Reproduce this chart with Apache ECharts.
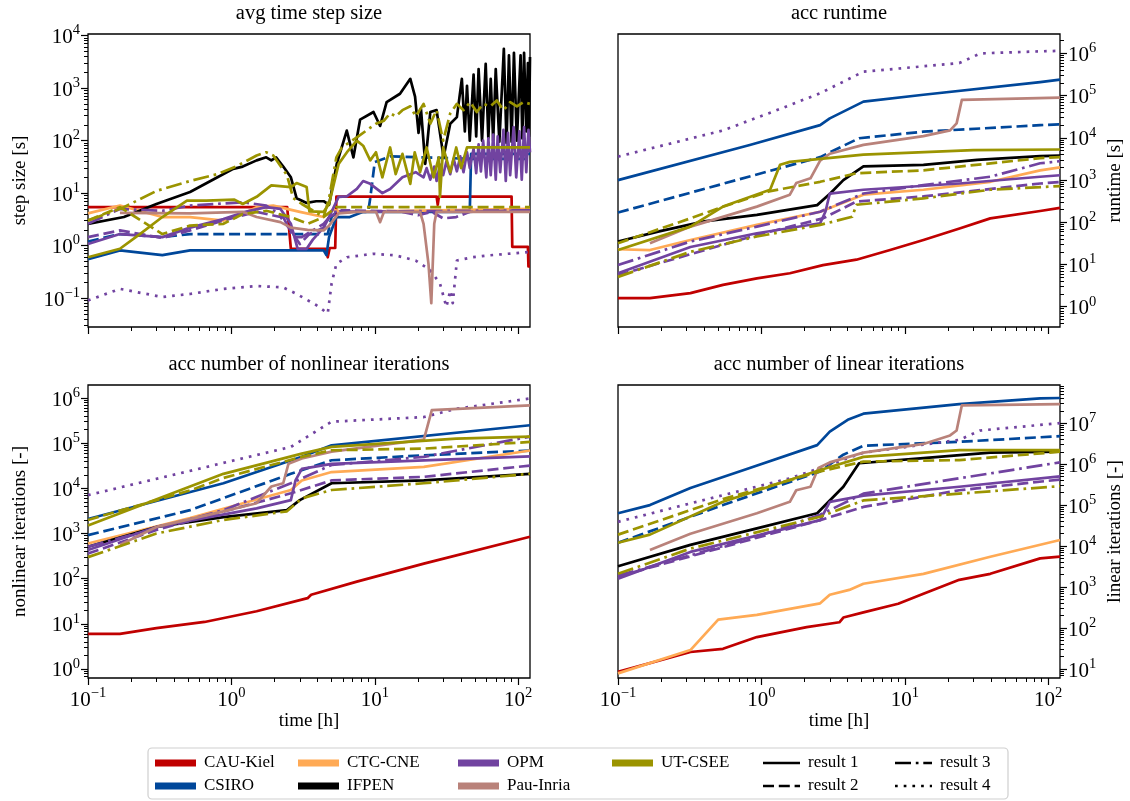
<!DOCTYPE html>
<html>
<head>
<meta charset="utf-8">
<script src="https://cdn.jsdelivr.net/npm/echarts@6/dist/echarts.min.js"></script>
<style>
  html, body { margin: 0; padding: 0; background: #fff; }
  #chart { width: 1130px; height: 801px; }
</style>
</head>
<body>
<div id="chart"></div>
<script>
// ---- teams, results ----
const teams = ['CAU-Kiel', 'CSIRO', 'CTC-CNE', 'IFPEN', 'OPM', 'Pau-Inria', 'UT-CSEE'];
const teamColors = ['#c00000', '#00479a', '#ffaa55', '#000000', '#7143a0', '#b9827a', '#9b9400'];
const resultNames = ['result 1', 'result 2', 'result 3', 'result 4'];

// ---- avg time step size [s] vs time [h] ----
const step_CAU_1 = [[0.1,5.4],[2.45,5.4],[2.6,0.87],[4.55,0.87],[4.7,0.6],[4.85,0.9],[5.3,0.9],[5.4,8.6],[27,8.6],[27.5,6],[28,8.6],[90,8.6],[91,0.95],[117,0.95],[118,0.4],[121,0.4]];
const step_CSIRO_1 = [[0.1,0.55],[0.167,0.81],[0.33,0.66],[0.515,0.81],[4.4,0.81],[4.6,0.66],[4.8,1.45],[5.4,3.5],[6.7,3.5],[8.3,4.4],[46,4.4],[47,56],[121,56]];
const step_CSIRO_2 = [[0.1,1.2],[0.167,1.66],[0.33,1.45],[0.515,1.66],[4.7,1.66],[5.0,3.5],[5.4,4.4],[9.0,4.4],[9.3,8],[10,39],[12.8,50],[48,45],[121,45]];
const step_CTC_1 = [[0.1,4.1],[0.167,5.8],[0.33,3.5],[0.515,3.5],[0.88,3.0],[1.2,4.0],[1.5,5.4],[1.96,5.8],[2.44,5.0],[3.0,4.4],[4.4,3.5],[5.1,4.8],[6,4.4],[121,5.0]];
const step_IFPEN_1 = [[0.1,2.6],[0.178,3.5],[0.3,6.2],[0.515,10.5],[0.8,20],[1.03,29],[1.2,32],[1.5,42],[1.75,48],[1.9,42],[2.05,48],[2.3,32],[2.6,20],[2.85,8],[3.35,6.5],[3.9,7],[4.4,7],[4.8,6],[5.43,36],[6.38,155],[7.1,48],[7.9,250],[9.8,350],[10.9,190],[12.1,540],[15,780],[17.7,1500],[19.1,690],[20.2,140],[21,400],[22.5,36],[24.4,350],[27,380],[30.2,48],[33.6,210],[37.4,280],[40.5,1500],[42.5,150],[44,1100],[46,100],[48.9,1800],[51,120],[53,2300],[56,100],[59.4,2900],[62,110],[64.4,1500],[67,100],[69.8,2300],[74,95],[79.5,5600],[83,90],[86.3,4200],[90,95],[93.5,4700],[98,100],[104,4200],[107,110],[110,4700],[114,150],[117,3000],[119,120],[121,3900]];
const step_OPM_1 = [[0.1,1.07],[0.167,1.66],[0.33,1.45],[0.515,2.2],[0.88,3.2],[1.25,4.4],[1.75,5.4],[2.2,5],[2.6,2.6],[2.9,0.87],[3.35,0.87],[3.7,1.3],[4.4,2.2],[4.8,3.5],[5.6,8.5],[6.4,8.7],[7.5,12],[8.3,17],[9.3,15],[11.3,10],[12.8,12],[15.6,20],[19.3,25],[21.9,20],[23,30],[24.4,18],[26,32],[27,17],[28.5,35],[30,22],[31.6,40],[33.6,23],[35.5,45],[37.4,26],[39.5,50],[41.6,25],[44,60],[46,30],[48.9,70],[51,24],[53,85],[55,26],[57,100],[60,20],[62,110],[64.4,22],[67,130],[69.8,18],[72,120],[75,25],[79,160],[82,17],[85,140],[88,22],[93,180],[97,20],[102,150],[106,18],[110,180],[114,25],[118,160],[121,60]];
const step_OPM_2 = [[0.1,1.45],[0.167,1.95],[0.33,1.4],[0.515,1.95],[0.88,3],[1.5,4.4],[2.2,3.5],[2.6,1.95],[3.0,1.07],[3.5,1.66],[4.4,2.2],[4.8,3.5],[5.9,4.7],[15,4.5],[20,3.8],[25,4.4],[30,3.3],[37,3.5],[46,4.4],[121,4.7]];
const step_OPM_3 = [[0.1,2.6],[0.167,5],[0.33,4.6],[0.515,5.8],[1.2,6.7],[1.75,5.8],[2.3,3.5],[2.7,1.45],[3.1,1.45],[4.4,2.6],[5.2,4.4],[121,4.7]];
const step_OPM_4 = [[0.1,0.09],[0.167,0.15],[0.33,0.105],[0.515,0.12],[0.88,0.15],[1.5,0.17],[2.3,0.16],[2.85,0.12],[3.9,0.074],[4.7,0.051],[5.0,0.19],[5.4,0.45],[6.4,0.6],[9.8,0.7],[14,0.65],[19.3,0.52],[24.4,0.34],[28.5,0.19],[31.6,0.068],[33.6,0.14],[35,0.08],[37.4,0.52],[48,0.6],[62,0.65],[121,0.76]];
const step_Pau_1 = [[0.167,4.2],[0.515,4.1],[1.2,4.4],[1.5,3.5],[2.2,2.8],[2.6,2.2],[3.4,2.0],[4.4,1.95],[4.8,2.4],[5.6,4.1],[7.5,4.4],[10.2,4.4],[10.9,2.8],[11.6,4.4],[20.7,4.4],[21.9,2.6],[23.7,0.45],[24.8,0.08],[26,2.6],[27,4.4],[121,4.4]];
const step_UT_1 = [[0.1,0.6],[0.167,0.87],[0.23,1.66],[0.33,3.5],[0.49,7.2],[0.67,7.2],[1.05,7.5],[1.2,6.2],[1.5,8.5],[1.9,14],[2.6,13],[2.85,15.5],[3.35,13],[3.5,4.5],[4.4,4.4],[4.8,6.2],[5.6,36],[6.4,60],[7.5,100],[8.3,80],[9.3,42],[10.2,60],[11.3,20],[12.8,74],[14,23],[15.6,56],[17.7,15],[19,60],[20.7,25],[23,74],[25.7,20],[28,48],[28.5,8.5],[30,74],[33.6,25],[37,74],[40,30],[44,74],[121,74]];
const step_UT_2 = [[0.1,3.0],[0.167,5.4],[0.33,1.66],[0.515,2.4],[0.88,2.6],[1.2,4],[1.75,4.6],[2.6,3.5],[3.4,2.6],[4.4,3.5],[5.4,5.4],[121,5.4]];
const step_UT_3 = [[0.1,3.0],[0.178,5.4],[0.3,11],[0.515,17],[0.8,23],[1.1,33],[1.5,52],[1.75,60],[1.96,52],[2.44,22],[2.7,8],[3.1,6.2],[4.4,3.5],[4.8,8],[5.4,48],[5.9,74],[7.5,115],[10.2,210],[11.6,240],[12.8,330],[14,290],[15.6,380],[17.7,450],[19.3,290],[21.9,500],[24.4,210],[27,380],[30,100],[33.6,330],[37.4,500],[41.6,380],[46.3,540],[51.5,350],[57,500],[64,450],[71,580],[79,380],[88,540],[98,450],[109,540],[121,500]];

// ---- accumulated runtime [s] ----
const run_CAU_1 = [[0.1,1.6],[0.167,1.6],[0.32,2.1],[0.54,3.3],[0.93,4.7],[1.58,6.2],[2.69,9.7],[4.6,13],[7.9,22],[13.5,38],[24.4,72],[39.5,124],[88,185],[121,220]];
const run_CSIRO_1 = [[0.1,1000],[0.83,6800],[2.57,20000],[3.0,29000],[5.15,72000],[13.5,105000],[88,210000],[121,240000]];
const run_CSIRO_2 = [[0.1,170],[2.57,3500],[4.8,9800],[13.5,14000],[88,20000],[121,21000]];
const run_CTC_1 = [[0.1,23],[0.167,22],[0.32,38],[0.93,87],[2.57,178],[5.15,450],[13.5,590],[39.5,910],[88,1700],[121,2000]];
const run_IFPEN_1 = [[0.1,35],[0.19,60],[0.4,105],[0.93,150],[2.45,255],[3.02,480],[3.73,1000],[5.15,2100],[13.5,2300],[32,3000],[88,3700],[121,3800]];
const run_OPM_1 = [[0.1,6.2],[0.32,26],[0.93,55],[2.57,95],[2.8,180],[3.0,480],[5.15,590],[24,830],[88,1200],[121,1300]];
const run_OPM_2 = [[0.1,5.6],[0.93,50],[2.69,124],[4.6,310],[13.5,410],[88,830],[121,900]];
const run_OPM_3 = [[0.1,9.7],[0.32,35],[0.93,79],[2.57,178],[5.15,480],[13.5,760],[39.5,1200],[88,2500],[121,2800]];
const run_OPM_4 = [[0.1,3600],[0.54,15000],[1.21,42000],[2.57,114000],[5.15,370000],[24,590000],[33.6,1000000],[88,1120000],[121,1150000]];
const run_Pau_1 = [[0.167,32],[0.32,79],[0.93,235],[1.58,450],[1.75,850],[2.2,1100],[2.57,2900],[3.0,4200],[5.15,6800],[13.5,11000],[20.7,15000],[23,22000],[25,79000],[121,90000]];
const run_UT_1 = [[0.1,22],[0.32,79],[0.54,236],[1.15,590],[1.35,2300],[1.58,2700],[5.15,4000],[30,5100],[121,5300]];
const run_UT_2 = [[0.1,32],[0.32,124],[0.54,234],[1.13,540],[2.57,910],[4.6,1450],[13.5,1700],[88,3300],[121,3500]];
const run_UT_3 = [[0.1,5.1],[0.32,20],[0.93,46],[2.57,87],[4.3,135],[4.6,260],[13.5,370],[39.5,590],[121,720]];

// ---- accumulated nonlinear iterations [-] ----
const nl_CAU_1 = [[0.1,6],[0.167,6],[0.3,8],[0.65,11],[1.5,19],[3.4,37],[3.6,44],[7.5,86],[22,215],[121,850]];
const nl_CSIRO_1 = [[0.1,2100],[0.88,13000],[3.1,50000],[5,90000],[121,250000]];
const nl_CSIRO_2 = [[0.1,920],[0.515,3300],[2.6,21000],[5,42000],[22,54000],[121,69000]];
const nl_CTC_1 = [[0.1,600],[0.515,2200],[2.6,9200],[3.1,15000],[5,23000],[22,30000],[121,69000]];
const nl_IFPEN_1 = [[0.1,510],[0.3,1400],[0.88,2300],[2.44,3300],[3.0,5500],[5,13000],[22,15000],[121,21000]];
const nl_OPM_1 = [[0.1,430],[0.3,1400],[1.5,3600],[2.6,5500],[2.8,15000],[3.1,27000],[5,35000],[121,51000]];
const nl_OPM_2 = [[0.1,360],[0.3,1200],[2.6,7800],[5,15000],[22,18000],[121,32000]];
const nl_OPM_3 = [[0.1,510],[0.88,3300],[2.6,13000],[5,33000],[22,50000],[121,140000]];
const nl_OPM_4 = [[0.1,7100],[2.6,83000],[5,300000],[22,380000],[37,580000],[121,980000]];
const nl_Pau_1 = [[0.167,560],[0.3,1400],[0.88,3100],[1.5,4700],[1.9,11000],[2.3,13000],[2.5,35000],[3.1,46000],[5,65000],[22,120000],[25,540000],[121,690000]];
const nl_UT_1 = [[0.1,1500],[0.515,11000],[0.88,21000],[3.1,59000],[5,83000],[37,126000],[121,140000]];
const nl_UT_2 = [[0.1,2000],[0.515,9000],[0.88,17000],[3.1,50000],[5,70000],[22,76000],[121,107000]];
const nl_UT_3 = [[0.1,300],[0.3,1000],[0.88,2000],[2.44,3100],[3.1,6000],[5,9200],[22,13000],[121,21000]];

// ---- accumulated linear iterations [-] ----
const lin_CAU_1 = [[0.1,8.5],[0.32,26],[0.54,31],[0.93,60],[2.07,105],[3.5,138],[3.73,180],[5.15,240],[9,390],[13.5,690],[24,1500],[39.5,2100],[88,5000],[121,5500]];
const lin_CSIRO_1 = [[0.1,63000],[0.167,100000],[0.32,260000],[0.83,800000],[2.45,2900000],[3.0,6200000],[4.0,12000000],[5.15,17000000],[24,29000000],[88,40000000],[121,41000000]];
const lin_CSIRO_2 = [[0.1,12000],[0.54,100000],[2.57,660000],[3.73,1700000],[5.15,2800000],[24,3500000],[121,4800000]];
const lin_CTC_1 = [[0.1,7.8],[0.32,29],[0.5,160],[0.93,210],[2.57,400],[3.0,650],[4.1,850],[5.15,1200],[13.5,2100],[39.5,5500],[121,14000]];
const lin_IFPEN_1 = [[0.1,3200],[0.32,10700],[0.93,27000],[2.45,63000],[3.73,280000],[4.8,1050000],[13.5,1400000],[39.5,1900000],[121,2000000]];
const lin_OPM_1 = [[0.1,1600],[0.32,7200],[2.57,43000],[3.0,120000],[5.15,170000],[24,280000],[121,500000]];
const lin_OPM_2 = [[0.1,1800],[2.57,43000],[5.15,90000],[24,230000],[121,420000]];
const lin_OPM_3 = [[0.1,1900],[0.93,17000],[2.57,58000],[5.15,190000],[24,450000],[121,1100000]];
const lin_OPM_4 = [[0.1,39000],[0.32,110000],[1.58,450000],[2.57,800000],[5.15,1900000],[24,3900000],[33.6,6600000],[121,10000000]];
const lin_Pau_1 = [[0.167,8000],[0.32,20000],[0.93,63000],[1.58,120000],[1.75,230000],[2.2,280000],[2.5,800000],[3.0,1100000],[5.15,1900000],[13.5,3100000],[20.7,5000000],[23,6600000],[25,27000000],[121,29000000]];
const lin_UT_1 = [[0.1,12000],[0.167,19000],[0.54,120000],[2.57,720000],[5.15,1500000],[24,2200000],[121,2200000]];
const lin_UT_2 = [[0.1,19000],[0.54,140000],[2.57,660000],[5.15,1150000],[24,1250000],[121,2000000]];
const lin_UT_3 = [[0.1,2100],[0.32,8700],[2.57,52000],[5.15,130000],[24,190000],[121,290000]];

// ---- layout and styling ----
const FONT = '"Liberation Serif", "DejaVu Serif", serif';
const LW = 2.7;
const dashes = ['solid', [11, 4.8], [16, 4.8, 2.7, 4.8], [2.7, 6]];
const TIME_MIN = 0.1, TIME_MAX = 121;

const panels = [
  { title: 'avg time step size', yName: 'step size [s]', side: 'left', yMin: -1.55, yMax: 4.03,
    left: 88, top: 34, xLabels: false,
    lines: [[0,0,step_CAU_1],[1,0,step_CSIRO_1],[1,1,step_CSIRO_2],[2,0,step_CTC_1],[3,0,step_IFPEN_1],
            [4,0,step_OPM_1],[4,1,step_OPM_2],[4,2,step_OPM_3],[4,3,step_OPM_4],[5,0,step_Pau_1],
            [6,0,step_UT_1],[6,1,step_UT_2],[6,2,step_UT_3]] },
  { title: 'acc runtime', yName: 'runtime [s]', side: 'right', yMin: -0.48, yMax: 6.46,
    left: 618, top: 34, xLabels: false,
    lines: [[0,0,run_CAU_1],[1,0,run_CSIRO_1],[1,1,run_CSIRO_2],[2,0,run_CTC_1],[3,0,run_IFPEN_1],
            [4,0,run_OPM_1],[4,1,run_OPM_2],[4,2,run_OPM_3],[4,3,run_OPM_4],[5,0,run_Pau_1],
            [6,0,run_UT_1],[6,1,run_UT_2],[6,2,run_UT_3]] },
  { title: 'acc number of nonlinear iterations', yName: 'nonlinear iterations [-]', side: 'left', yMin: -0.2, yMax: 6.29,
    left: 88, top: 385, xLabels: true,
    lines: [[0,0,nl_CAU_1],[1,0,nl_CSIRO_1],[1,1,nl_CSIRO_2],[2,0,nl_CTC_1],[3,0,nl_IFPEN_1],
            [4,0,nl_OPM_1],[4,1,nl_OPM_2],[4,2,nl_OPM_3],[4,3,nl_OPM_4],[5,0,nl_Pau_1],
            [6,0,nl_UT_1],[6,1,nl_UT_2],[6,2,nl_UT_3]] },
  { title: 'acc number of linear iterations', yName: 'linear iterations [-]', side: 'right', yMin: 0.78, yMax: 7.93,
    left: 618, top: 385, xLabels: true,
    lines: [[0,0,lin_CAU_1],[1,0,lin_CSIRO_1],[1,1,lin_CSIRO_2],[2,0,lin_CTC_1],[3,0,lin_IFPEN_1],
            [4,0,lin_OPM_1],[4,1,lin_OPM_2],[4,2,lin_OPM_3],[4,3,lin_OPM_4],[5,0,lin_Pau_1],
            [6,0,lin_UT_1],[6,1,lin_UT_2],[6,2,lin_UT_3]] }
];
const PW = 442, PH = 293;

// decade ticks and 2..9 minor ticks, in log10 units
function majorTicks(lo, hi) {
  const out = [];
  for (let n = Math.ceil(lo - 1e-9); n <= Math.floor(hi + 1e-9); n++) out.push(n);
  return out;
}
function minorTicks(lo, hi) {
  const out = [];
  for (let n = Math.floor(lo) - 1; n <= Math.ceil(hi); n++) {
    for (let k = 2; k <= 9; k++) {
      const v = n + Math.log10(k);
      if (v > lo && v < hi) out.push(v);
    }
  }
  return out;
}
function powLabel(v) {
  const e = Math.round(v);
  return '{b|10}{s|' + (e < 0 ? '\u2212' + (-e) : e) + '}';
}
const richPow = {
  b: { fontFamily: FONT, fontSize: 21, color: '#000', lineHeight: 25, verticalAlign: 'bottom' },
  s: { fontFamily: FONT, fontSize: 14.5, color: '#000', lineHeight: 15, verticalAlign: 'top' }
};

const xLo = Math.log10(TIME_MIN), xHi = Math.log10(TIME_MAX);
const grids = [], xAxes = [], yAxes = [], series = [], graphics = [];
const hiddenLine = { show: false, onZero: false };

panels.forEach((p, i) => {
  grids.push({ left: p.left, top: p.top, width: PW, height: PH, show: true,
               borderColor: '#000', borderWidth: 1.3, backgroundColor: 'transparent', containLabel: false });
  // major x axis (labels + long ticks)
  xAxes.push({
    type: 'value', gridIndex: i, min: xLo, max: xHi, position: 'bottom',
    axisLine: hiddenLine, splitLine: { show: false },
    axisTick: { show: true, length: 7, lineStyle: { color: '#000', width: 1.2 }, customValues: majorTicks(xLo, xHi) },
    axisLabel: { show: p.xLabels, margin: 8, customValues: majorTicks(xLo, xHi), formatter: powLabel, rich: richPow },
    name: p.xLabels ? 'time [h]' : '', nameLocation: 'middle', nameGap: 33,
    nameTextStyle: { fontFamily: FONT, fontSize: 19, color: '#000' }
  });
  // minor x axis (short ticks only)
  xAxes.push({
    type: 'value', gridIndex: i, min: xLo, max: xHi, position: 'bottom',
    axisLine: hiddenLine, splitLine: { show: false }, axisLabel: { show: false },
    axisTick: { show: true, length: 4, lineStyle: { color: '#000', width: 1 }, customValues: minorTicks(xLo, xHi) }
  });
  const right = p.side === 'right';
  yAxes.push({
    type: 'value', gridIndex: i, min: p.yMin, max: p.yMax, position: p.side,
    axisLine: hiddenLine, splitLine: { show: false },
    axisTick: { show: true, length: 7, lineStyle: { color: '#000', width: 1.2 }, customValues: majorTicks(p.yMin, p.yMax) },
    axisLabel: { show: true, margin: 8, customValues: majorTicks(p.yMin, p.yMax), formatter: powLabel, rich: richPow },
    name: p.yName, nameLocation: 'middle', nameRotate: 90, nameGap: right ? 46 : 58,
    nameTextStyle: { fontFamily: FONT, fontSize: 19, color: '#000' }
  });
  yAxes.push({
    type: 'value', gridIndex: i, min: p.yMin, max: p.yMax, position: p.side,
    axisLine: hiddenLine, splitLine: { show: false }, axisLabel: { show: false },
    axisTick: { show: true, length: 4, lineStyle: { color: '#000', width: 1 }, customValues: minorTicks(p.yMin, p.yMax) }
  });
  p.lines.forEach(([team, res, pts]) => {
    series.push({
      type: 'line', name: teams[team] + ' ' + resultNames[res],
      xAxisIndex: 2 * i, yAxisIndex: 2 * i,
      data: pts.map(([t, v]) => [Math.log10(t), Math.log10(v)]),
      symbol: 'none', showSymbol: false, silent: true, animation: false, clip: true,
      lineStyle: { color: teamColors[team], width: LW, type: dashes[res], cap: 'butt', join: 'round' }
    });
  });
  graphics.push({
    type: 'text', x: p.left + PW / 2, y: p.top - 20,
    style: { text: p.title, font: '20.5px ' + FONT, fill: '#000', align: 'center', verticalAlign: 'middle',
             textAlign: 'center', textVerticalAlign: 'middle' }
  });
});

// legend box
const legendTeams = [[0, 155, 763], [2, 298, 763], [4, 458, 763], [6, 612, 763],
                     [1, 155, 786], [3, 298, 786], [5, 458, 786]];
const legendResults = [[0, 763, 763], [2, 895, 763], [1, 763, 786], [3, 895, 786]];
graphics.push({ type: 'rect', shape: { x: 148, y: 748, width: 860, height: 51, r: 4 },
                style: { fill: '#fff', stroke: '#cfcfcf', lineWidth: 1.2 }, z: 10 });
legendTeams.forEach(([t, x, y]) => {
  graphics.push({ type: 'rect', shape: { x: x, y: y - 3.5, width: 41, height: 7 },
                  style: { fill: teamColors[t] }, z: 11 });
  graphics.push({ type: 'text', x: x + 49, y: y, z: 11,
                  style: { text: teams[t], font: '17px ' + FONT, fill: '#000', verticalAlign: 'middle', textVerticalAlign: 'middle' } });
});
legendResults.forEach(([r, x, y]) => {
  graphics.push({ type: 'line', shape: { x1: x, y1: y, x2: x + 37, y2: y }, z: 11,
                  style: { stroke: '#000', lineWidth: LW, lineDash: dashes[r] === 'solid' ? null : dashes[r] } });
  graphics.push({ type: 'text', x: x + 45, y: y, z: 11,
                  style: { text: resultNames[r], font: '17px ' + FONT, fill: '#000', verticalAlign: 'middle', textVerticalAlign: 'middle' } });
});

const chart = echarts.init(document.getElementById('chart'), null, { renderer: 'canvas' });
chart.setOption({
  backgroundColor: '#fff',
  animation: false,
  grid: grids,
  xAxis: xAxes,
  yAxis: yAxes,
  series: series,
  graphic: { elements: graphics }
});
</script>
</body>
</html>
